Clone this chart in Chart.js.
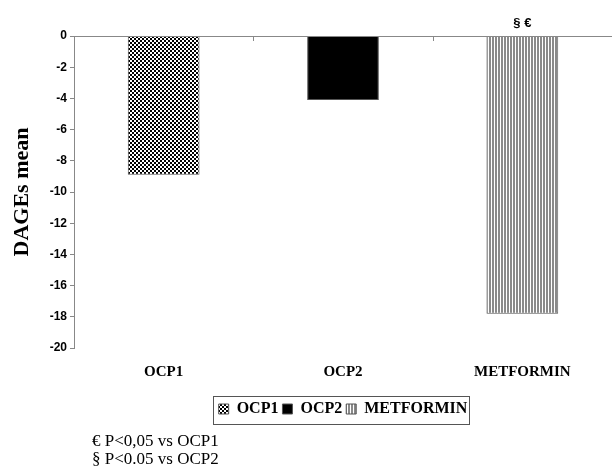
<!DOCTYPE html>
<html>
<head>
<meta charset="utf-8">
<script src="https://cdn.jsdelivr.net/npm/chart.js@4.4.0/dist/chart.umd.min.js"></script>
<style>
  html, body { margin: 0; padding: 0; background: #fff; }
  #wrap { position: relative; width: 613px; height: 472px; }
  .note { position: absolute; left: 92px; font: 17px "Liberation Serif", "Times New Roman", serif; color: #000; white-space: nowrap; }
</style>
</head>
<body>
<div id="wrap">
  <canvas id="dages-chart" width="613" height="472"></canvas>
  <div class="note" style="top:431px">€ P&lt;0,05 vs OCP1</div>
  <div class="note" style="top:449px">§ P&lt;0.05 vs OCP2</div>
</div>
<script>
// data
const categories = ['OCP1', 'OCP2', 'METFORMIN'];
const dagesMean = [-8.9, -4.1, -17.8];
const significance = ['', '', '§ €'];
const yTicks = [0, -2, -4, -6, -8, -10, -12, -14, -16, -18, -20];

// small fill patterns for the bars
function checkerPattern() {
  const c = document.createElement('canvas');
  c.width = 4; c.height = 4;
  const g = c.getContext('2d');
  g.fillStyle = '#fff'; g.fillRect(0, 0, 4, 4);
  g.fillStyle = '#000';
  g.fillRect(0, 0, 2, 2);
  g.fillRect(2, 2, 2, 2);
  return g.createPattern(c, 'repeat');
}
function stripePattern() {
  const c = document.createElement('canvas');
  c.width = 3; c.height = 1;
  const g = c.getContext('2d');
  g.fillStyle = '#fff'; g.fillRect(0, 0, 3, 1);
  g.fillStyle = '#8a8a8a'; g.fillRect(0, 0, 2, 1);
  return g.createPattern(c, 'repeat');
}
const fills = [checkerPattern(), '#000', stripePattern()];

// one dataset per category so the legend lists all three
const datasets = categories.map((name, i) => ({
  label: name,
  data: categories.map((_, j) => (j === i ? dagesMean[i] : null)),
  backgroundColor: fills[i],
  borderColor: '#555',
  borderWidth: 1
}));

// zero line on top, small ticks between groups, legend frame, star marks
const extras = {
  id: 'extras',
  afterDraw(chart) {
    const { ctx, chartArea, scales } = chart;
    const x = scales.x, y = scales.y;
    const y0 = y.getPixelForValue(0);
    ctx.save();
    ctx.strokeStyle = '#888';
    ctx.lineWidth = 1;
    ctx.beginPath();
    ctx.moveTo(chartArea.left, y0 + 0.5);
    ctx.lineTo(chartArea.right, y0 + 0.5);
    for (let i = 0; i < categories.length - 1; i++) {
      const px = Math.round((x.getPixelForValue(i) + x.getPixelForValue(i + 1)) / 2) + 0.5;
      ctx.moveTo(px, y0);
      ctx.lineTo(px, y0 + 5);
    }
    ctx.stroke();

    ctx.fillStyle = '#000';
    ctx.font = 'bold 13px "Liberation Sans", Arial, sans-serif';
    ctx.textAlign = 'center';
    ctx.textBaseline = 'middle';
    significance.forEach((s, i) => {
      if (s) ctx.fillText(s, x.getPixelForValue(i), chartArea.top - 13);
    });

    const boxes = chart.legend.legendHitBoxes;
    if (boxes && boxes.length) {
      const l = Math.min(...boxes.map(b => b.left)) - 6;
      const r = Math.max(...boxes.map(b => b.left + b.width)) + 1;
      const t = Math.min(...boxes.map(b => b.top)) - 5;
      const b2 = Math.max(...boxes.map(b => b.top + b.height)) + 7;
      ctx.strokeStyle = '#555';
      ctx.strokeRect(Math.round(l) + 0.5, Math.round(t) + 0.5, Math.round(r - l), Math.round(b2 - t));
    }
    ctx.restore();
  }
};

new Chart(document.getElementById('dages-chart').getContext('2d'), {
  type: 'bar',
  data: { labels: categories, datasets: datasets },
  options: {
    responsive: false,
    animation: false,
    grouped: false,
    barPercentage: 0.4,
    categoryPercentage: 1,
    layout: { padding: { top: 36, right: 1, left: 0, bottom: 45 } },
    plugins: {
      legend: {
        position: 'bottom',
        fullSize: false,
        labels: {
          color: '#000',
          font: { family: '"Liberation Serif", serif', size: 16, weight: 'bold' },
          boxWidth: 10,
          boxHeight: 10,
          padding: 4
        }
      },
      tooltip: { enabled: false }
    },
    scales: {
      x: {
        grid: { display: false, drawTicks: false },
        border: { display: false },
        ticks: {
          color: '#000',
          padding: 15,
          font: { family: '"Liberation Serif", serif', size: 15, weight: 'bold' }
        },
        afterFit(scale) { scale.height = 49; }
      },
      y: {
        min: -20,
        max: 0,
        afterBuildTicks(scale) { scale.ticks = yTicks.map(v => ({ value: v })); },
        grid: { drawOnChartArea: false, drawTicks: true, tickLength: 4, color: '#888' },
        border: { color: '#888' },
        ticks: {
          color: '#000',
          padding: 3,
          font: { family: '"Liberation Sans", Arial, sans-serif', size: 12, weight: 'bold' }
        },
        title: {
          display: true,
          text: 'DAGEs mean',
          color: '#000',
          padding: { top: 9, bottom: 4 },
          font: { family: '"Liberation Serif", serif', size: 22, weight: 'bold' }
        },
        afterFit(scale) { scale.width = 74; }
      }
    }
  },
  plugins: [extras]
});
</script>
</body>
</html>
